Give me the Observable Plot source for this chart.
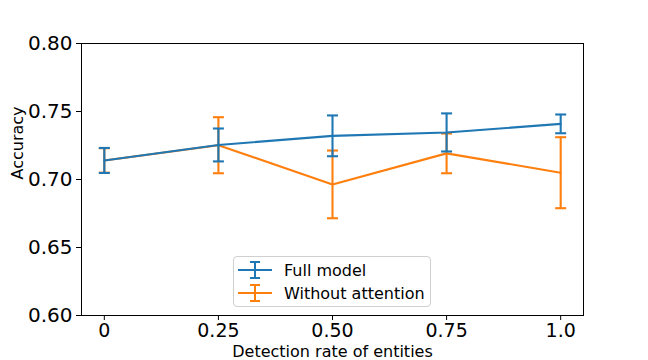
<!DOCTYPE html>
<html>
<head>
<meta charset="utf-8">
<script src="https://cdn.jsdelivr.net/npm/d3@7"></script>
<script src="https://cdn.jsdelivr.net/npm/@observablehq/plot@0.6"></script>
<style>
  body { margin: 0; background: white; }
  #wrap { position: relative; width: 648px; height: 360px; font-family: "DejaVu Sans", sans-serif; }
  #legend { position: absolute; left: 233px; top: 256px; width: 196px; height: 49px;
    border: 1px solid #d0d0d0; border-radius: 4px; background: rgba(255,255,255,0.8);
    font-size: 16px; color: #000; }
  .row { position: absolute; left: 3px; height: 22px; display: flex; align-items: center; }
  .row svg { margin-right: 11px; }
</style>
</head>
<body>
<div id="wrap"><div id="chart"></div><div id="legend"></div></div>
<script>
const xValues = [0, 0.25, 0.5, 0.75, 1.0];
const xTickLabels = ["0", "0.25", "0.50", "0.75", "1.0"];
const yTicks = [0.60, 0.65, 0.70, 0.75, 0.80];
const seriesNames = ["Full model", "Without attention"];
const seriesColors = ["#1f77b4", "#ff7f0e"];
const fullMean = [0.714, 0.7254, 0.7321, 0.7346, 0.7409];
const fullErr = [0.0092, 0.0121, 0.0150, 0.0140, 0.0069];
const noAttnMean = [0.714, 0.7252, 0.6964, 0.7192, 0.7050];
const noAttnErr = [0.0090, 0.0206, 0.0249, 0.0146, 0.0261];
const xLabel = "Detection rate of entities";
const yLabel = "Accuracy";

function rows(means, errs, name) {
  return xValues.map((x, i) => ({x, y: means[i], lo: means[i] - errs[i], hi: means[i] + errs[i], name}));
}
const full = rows(fullMean, fullErr, seriesNames[0]);
const noAttn = rows(noAttnMean, noAttnErr, seriesNames[1]);

const cap = {draw(ctx) { ctx.moveTo(-5.5, 0); ctx.lineTo(5.5, 0); }};

function series(data, color) {
  return [
    Plot.line(data, {x: "x", y: "y", stroke: color, strokeWidth: 2.1}),
    Plot.ruleX(data, {x: "x", y1: "lo", y2: "hi", stroke: color, strokeWidth: 2.1}),
    Plot.dot(data, {x: "x", y: "lo", symbol: cap, stroke: color, strokeWidth: 2.1, fill: "none", r: 5}),
    Plot.dot(data, {x: "x", y: "hi", symbol: cap, stroke: color, strokeWidth: 2.1, fill: "none", r: 5})
  ];
}

const chart = Plot.plot({
  width: 648, height: 360,
  marginLeft: 81, marginRight: 65, marginTop: 43, marginBottom: 45,
  x: {domain: [-0.05, 1.05]},
  y: {domain: [0.6, 0.8]},
  style: {fontFamily: "DejaVu Sans, sans-serif", color: "#000", background: "white"},
  marks: [
    ...series(noAttn, seriesColors[1]),
    ...series(full, seriesColors[0]),
    Plot.frame({stroke: "#000", strokeWidth: 1}),
    Plot.axisX({ticks: xValues, tickFormat: (d, i) => xTickLabels[i], tickSize: 5, tickPadding: 3, fontSize: 19, label: null}),
    Plot.axisY({ticks: yTicks, tickFormat: d3.format(".2f"), tickSize: 5, tickPadding: 4, fontSize: 20, label: null}),
    Plot.text([xLabel], {frameAnchor: "bottom", dy: 36, lineAnchor: "middle", fontSize: 16, text: d => d}),
    Plot.text([yLabel], {frameAnchor: "left", dx: -64, rotate: -90, lineAnchor: "middle", fontSize: 16, text: d => d})
  ]
});
document.getElementById("chart").appendChild(chart);

const legend = document.getElementById("legend");
seriesNames.forEach((name, i) => {
  const row = document.createElement("div");
  row.className = "row";
  row.style.top = (2 + i * 23) + "px";
  const c = seriesColors[i];
  row.innerHTML = `<svg width="36" height="22"><line x1="1" x2="35" y1="11" y2="11" stroke="${c}" stroke-width="2"/>` +
    `<line x1="18" x2="18" y1="3" y2="19" stroke="${c}" stroke-width="2"/>` +
    `<line x1="13" x2="23" y1="3" y2="3" stroke="${c}" stroke-width="2"/>` +
    `<line x1="13" x2="23" y1="19" y2="19" stroke="${c}" stroke-width="2"/></svg>`;
  const span = document.createElement("span");
  span.textContent = name;
  row.appendChild(span);
  legend.appendChild(row);
});
</script>
</body>
</html>
